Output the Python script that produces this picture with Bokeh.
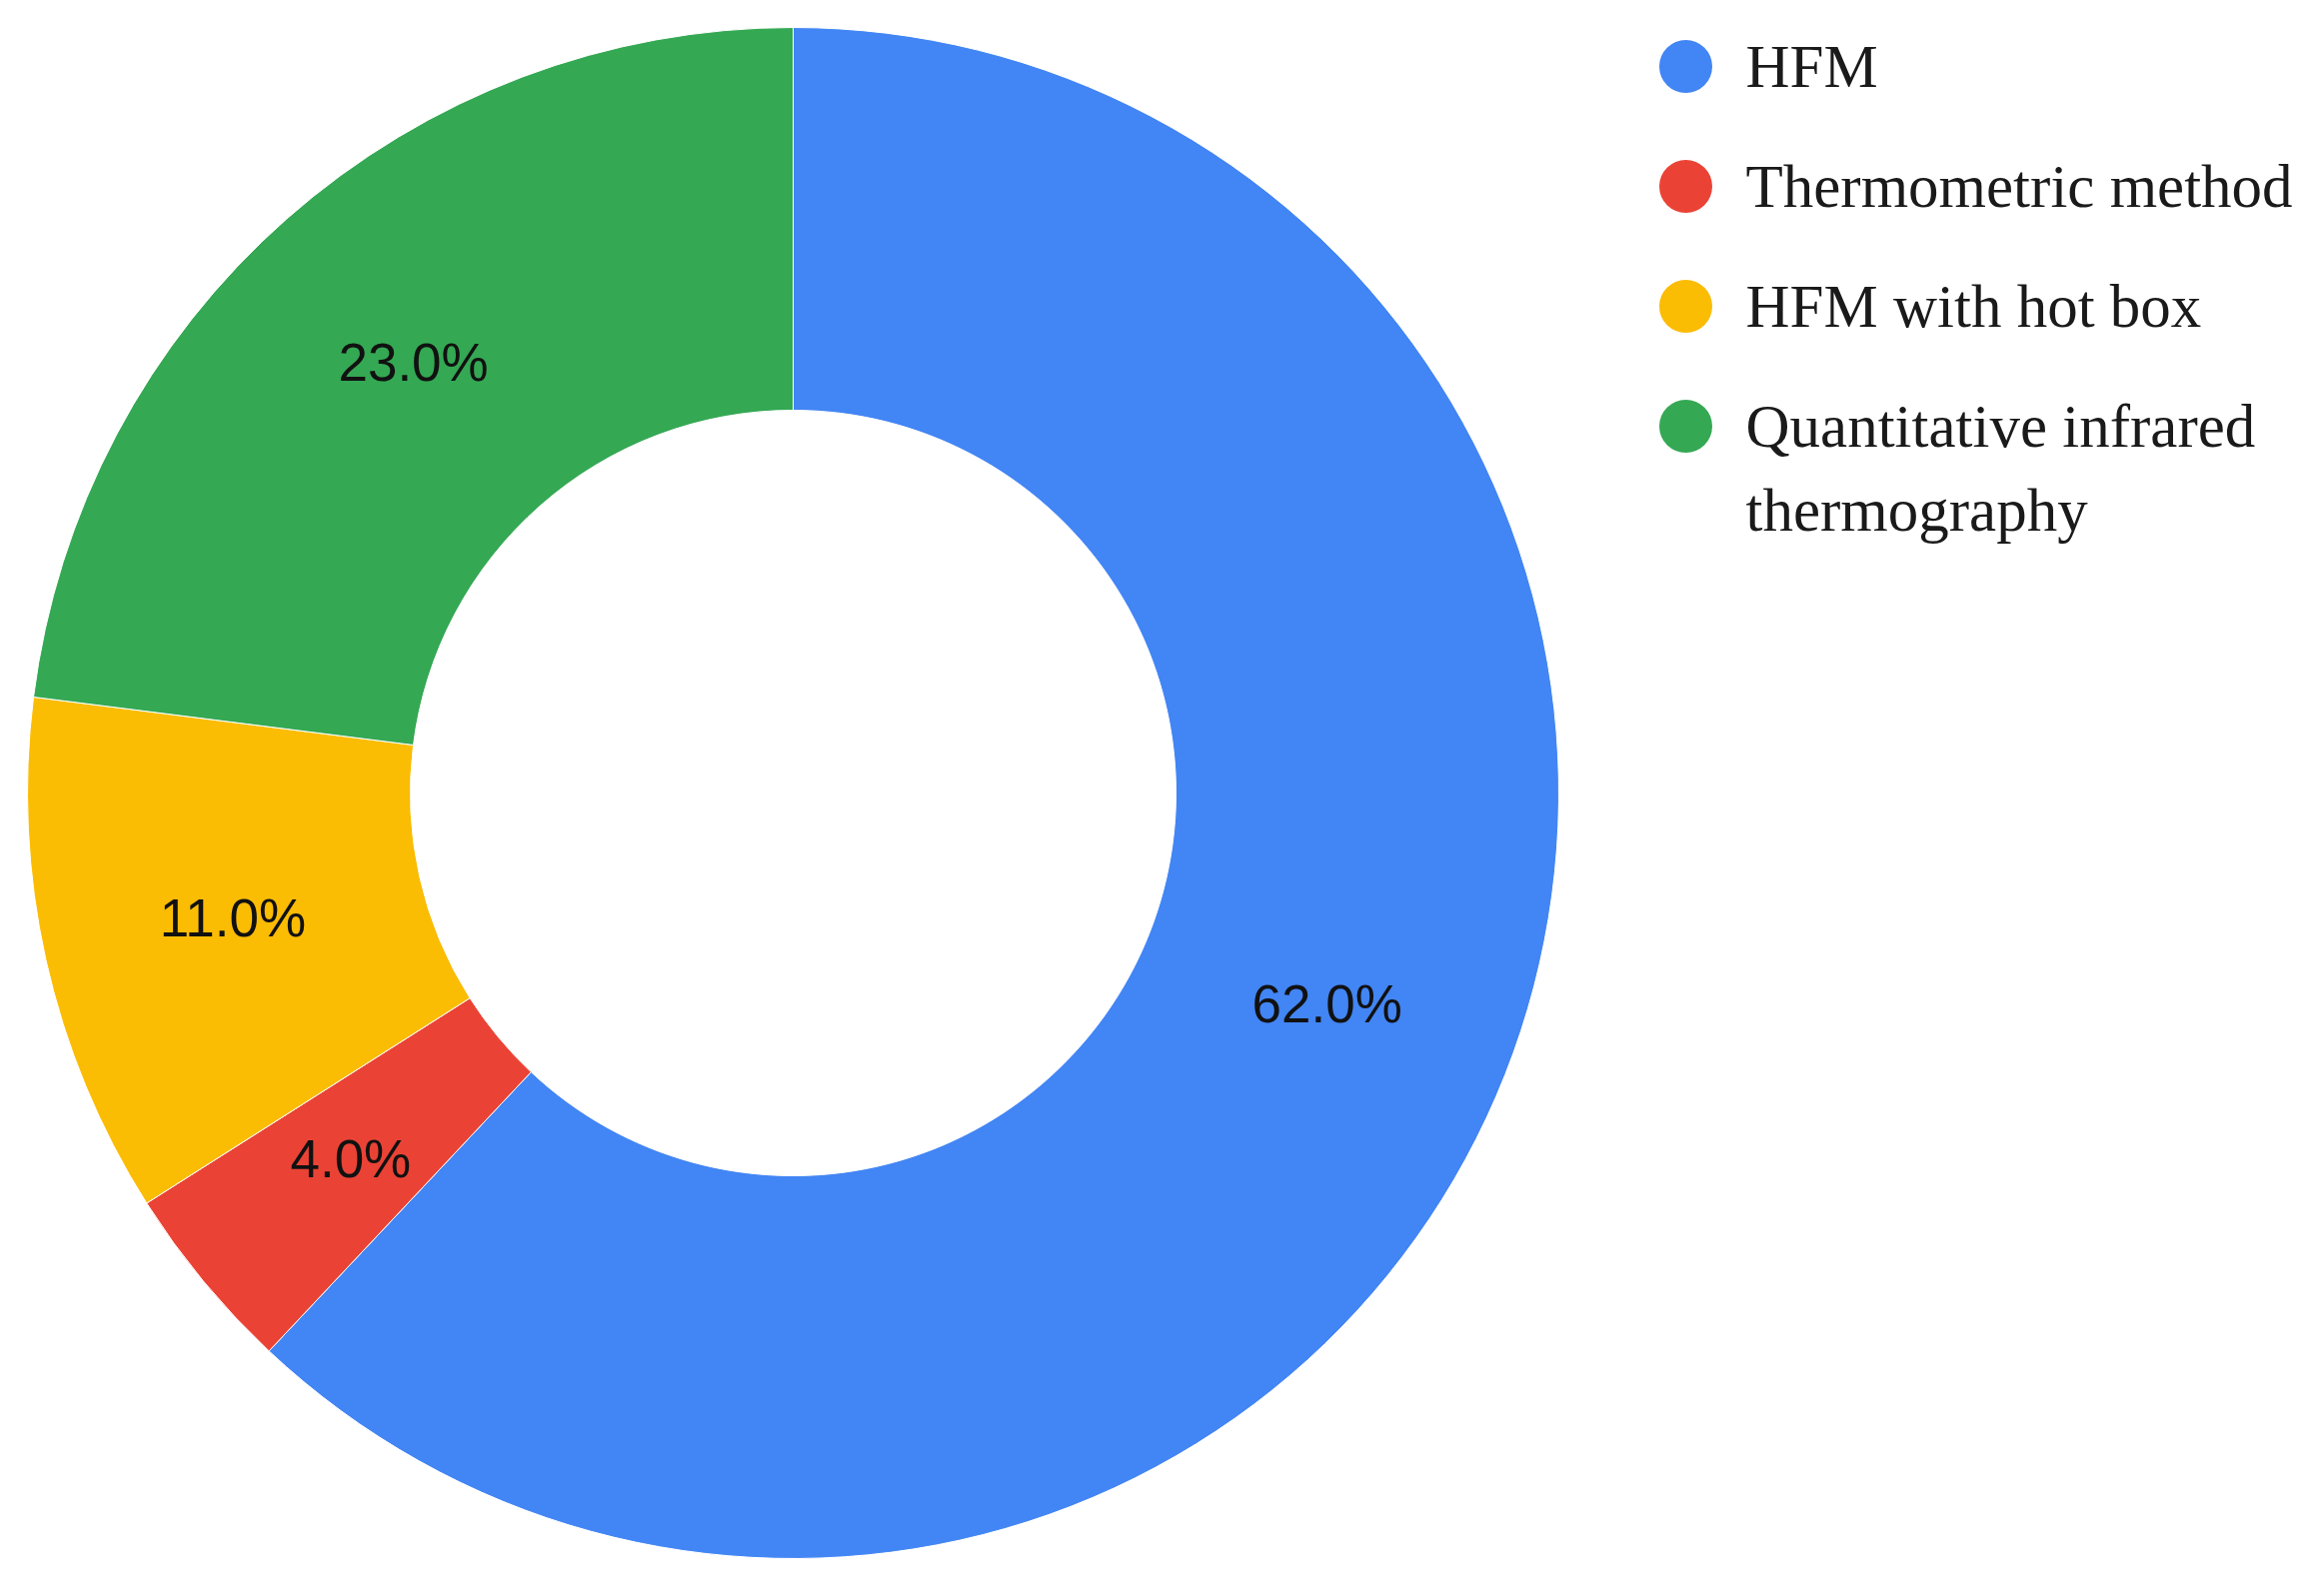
import math
from bokeh.plotting import figure
from bokeh.models import Range1d, ColumnDataSource
from bokeh.core.properties import value
from bokeh.embed import file_html
from bokeh.resources import INLINE

categories = ["HFM", "Thermometric method", "HFM with hot box", "Quantitative infrared\nthermography"]
shares = [62.0, 4.0, 11.0, 23.0]
colors = ["#4285F4", "#EA4335", "#FBBC04", "#34A853"]

IMG_H = 1587
W, H = 2309, 1571
p = figure(width=W, height=H, output_backend="svg", toolbar_location=None,
           x_range=Range1d(0, W), y_range=Range1d(IMG_H - H, IMG_H),
           min_border=0)
p.axis.visible = False
p.grid.visible = False
p.outline_line_color = None
p.background_fill_color = "white"
p.border_fill_color = "white"

cx, cy = 793, IMG_H - 793
r_out, r_in = 766, 383

total = sum(shares)
starts, ends, lx, ly, labels = [], [], [], [], []
cum = 0.0
for s in shares:
    a0 = math.pi / 2 - 2 * math.pi * cum / total
    a1 = math.pi / 2 - 2 * math.pi * (cum + s) / total
    starts.append(a0)
    ends.append(a1)
    mid = (a0 + a1) / 2
    rm = (r_out + r_in) / 2
    lx.append(cx + rm * math.cos(mid))
    ly.append(cy + rm * math.sin(mid))
    labels.append(f"{s:.1f}%")
    cum += s

src = ColumnDataSource(dict(start=starts, end=ends, color=colors))
p.annular_wedge(x=cx, y=cy, inner_radius=r_in, outer_radius=r_out,
                start_angle="start", end_angle="end", direction="clock",
                fill_color="color", line_color="white", line_width=1, source=src)

p.text(x=lx, y=ly, text=labels, text_align="center", text_baseline="middle",
       text_font=value("Liberation Sans"), text_font_size="53px", text_color="#111111")

# legend
leg_x = 1686
leg_y0 = IMG_H - 66
leg_step = 120
line_step = 84
mx, my, tx, ty, tt = [], [], [], [], []
for i, cat in enumerate(categories):
    yc = leg_y0 - i * leg_step
    mx.append(leg_x)
    my.append(yc)
    for j, part in enumerate(cat.split("\n")):
        tx.append(1746)
        ty.append(yc - j * line_step)
        tt.append(part)
p.scatter(x=mx, y=my, size=53, marker="circle", fill_color=colors, line_color=None)
p.text(x=tx, y=ty, text=tt, text_align="left", text_baseline="middle",
       text_font=value("Liberation Serif"), text_font_size="61px", text_color="#1a1a1a")

open("out.html", "w").write(file_html(p, INLINE))
